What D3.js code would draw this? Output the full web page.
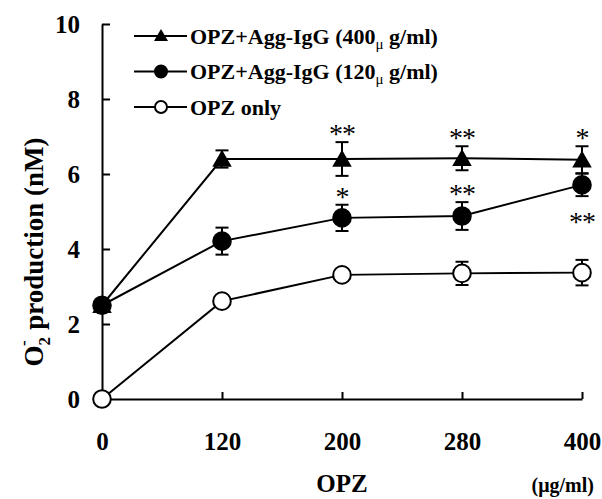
<!DOCTYPE html>
<html><head><meta charset="utf-8">
<script src="https://cdn.jsdelivr.net/npm/d3@7"></script>
<style>
body{margin:0;background:#fff}
svg{display:block}
text{font-family:"Liberation Serif","Times New Roman",serif;font-weight:bold;fill:#000}
</style>
</head><body><svg id="c" width="602" height="499"></svg>
<script>
const categories = ["0", "120", "200", "280", "400"];
const yTicks = [0, 2, 4, 6, 8, 10];
const seriesNames = ["OPZ+Agg-IgG (400", "OPZ+Agg-IgG (120", "OPZ only"];
const triValues = [2.5, 6.4, 6.4, 6.42, 6.38];
const triErr = [0, 0.23, 0.45, 0.32, 0.36];
const filledValues = [2.5, 4.21, 4.83, 4.88, 5.71];
const filledErr = [0, 0.36, 0.35, 0.37, 0.3];
const openValues = [0, 2.61, 3.31, 3.35, 3.37];
const openErr = [0, 0, 0.15, 0.31, 0.34];
const triStars = ["", "", "**", "**", "*"];
const filledStars = ["", "", "*", "**", "**"];
const filledStarsBelow = [false, false, false, false, true];

const svg = d3.select("#c");
const x = d3.scalePoint().domain(categories).range([102, 582]);
const y = d3.scaleLinear().domain([0, 10]).range([399, 24]);

// axes
const yAxis = d3.axisLeft(y).tickValues(yTicks).tickSizeInner(-8).tickSizeOuter(0).tickPadding(22).tickFormat(d3.format("d"));
const gy = svg.append("g").attr("transform", "translate(102,0)").call(yAxis);
const xAxis = d3.axisBottom(x).tickSizeInner(-7).tickSizeOuter(0).tickPadding(33);
const gx = svg.append("g").attr("transform", "translate(0,399)").call(xAxis);
[gx, gy].forEach(g => {
  g.selectAll("path.domain").attr("stroke", "#000").attr("stroke-width", 2);
  g.selectAll(".tick line").attr("stroke", "#000").attr("stroke-width", 2);
  g.selectAll(".tick text").style("font-family", '"Liberation Serif","Times New Roman",serif')
    .style("font-weight", "bold").style("font-size", "25px").attr("fill", "#000");
});

// series
const series = [
  {vals: triValues, err: triErr, type: "tri"},
  {vals: filledValues, err: filledErr, type: "filled"},
  {vals: openValues, err: openErr, type: "open"}
];
const line = d3.line().x((d, i) => x(categories[i])).y(d => y(d));
series.forEach(s => {
  svg.append("path").attr("d", line(s.vals)).attr("fill", "none").attr("stroke", "#000").attr("stroke-width", 2);
});
series.forEach(s => {
  s.vals.forEach((v, i) => {
    if (!s.err[i]) return;
    const cx = x(categories[i]);
    const g = svg.append("g").attr("stroke", "#000").attr("stroke-width", 2);
    g.append("line").attr("x1", cx).attr("x2", cx).attr("y1", y(v - s.err[i])).attr("y2", y(v + s.err[i]));
    [v - s.err[i], v + s.err[i]].forEach(e => g.append("line").attr("x1", cx - 6.5).attr("x2", cx + 6.5).attr("y1", y(e)).attr("y2", y(e)));
  });
});
function marker(g, type, cx, cy, big) {
  if (type === "tri") {
    g.append("path").attr("d", d3.symbol(d3.symbolTriangle, big ? 165 : 85)()).attr("transform", `translate(${cx},${cy + (big ? 2 : 1)})`).attr("fill", "#000");
  } else {
    g.append("circle").attr("cx", cx).attr("cy", cy).attr("r", big ? 8.8 : 6)
      .attr("fill", type === "filled" ? "#000" : "#fff").attr("stroke", "#000").attr("stroke-width", 2);
  }
}
series.forEach(s => {
  s.vals.forEach((v, i) => marker(svg, s.type, x(categories[i]), y(v), true));
});

// significance stars
function stars(arr, vals, err, below) {
  arr.forEach((t, i) => {
    if (!t) return;
    const cx = x(categories[i]);
    let cy;
    if (below && below[i]) cy = y(vals[i] - err[i]) + 22;
    else cy = y(vals[i] + err[i]) - 12;
    svg.append("text").attr("x", cx).attr("y", cy + 13).attr("text-anchor", "middle")
      .style("font-weight", "normal").style("font-size", "28px").style("letter-spacing", "-1px").text(t);
  });
}
stars(triStars, triValues, triErr);
stars(filledStars, filledValues, filledErr, filledStarsBelow);

// legend
const legendTypes = ["tri", "filled", "open"];
const lg = svg.append("g");
legendTypes.forEach((t, i) => {
  const ly = 36 + i * 35.5;
  lg.append("line").attr("x1", 134).attr("x2", 187).attr("y1", ly).attr("y2", ly).attr("stroke", "#000").attr("stroke-width", 2);
  marker(lg, t, 161, ly, false);
  const tx = lg.append("text").attr("x", 190).attr("y", ly + 7.5).style("font-size", "22px");
  tx.append("tspan").text(seriesNames[i]);
  if (i < 2) {
    tx.append("tspan").attr("dy", 5).style("font-size", "15px").style("font-weight", "normal").text("\u03bc");
    tx.append("tspan").attr("dy", -5).text(" g/ml)");
  }
});

// axis titles
const yt = svg.append("text").attr("transform", "translate(43,252) rotate(-90)").attr("text-anchor", "middle").style("font-size", "27px");
yt.append("tspan").text("O");
yt.append("tspan").attr("dy", 7).style("font-size", "17px").text("2");
yt.append("tspan").attr("dx", -9).attr("dy", -21).style("font-size", "17px").text("-");
yt.append("tspan").attr("dx", 4).attr("dy", 14).text(" production (nM)");
svg.append("text").attr("x", 342).attr("y", 492).attr("text-anchor", "middle").style("font-size", "25px").text("OPZ");
svg.append("text").attr("x", 594).attr("y", 492).attr("text-anchor", "end").style("font-size", "20px").text("(\u03bcg/ml)");
</script>
</body></html>
